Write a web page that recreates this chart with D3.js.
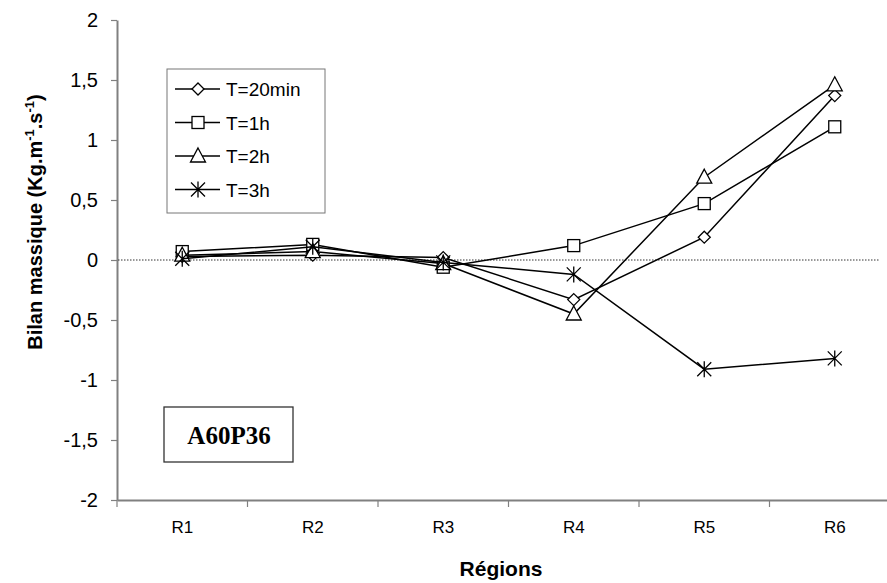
<!DOCTYPE html>
<html><head><meta charset="utf-8">
<script src="https://cdn.jsdelivr.net/npm/d3@7"></script>
<style>body{margin:0;background:#fff}svg{display:block}</style>
</head><body>
<svg id="c" width="887" height="583"></svg>
<script>
const categories = ["R1","R2","R3","R4","R5","R6"];
const seriesNames = ["T=20min","T=1h","T=2h","T=3h"];
const seriesSymbols = ["diamond","square","triangle","star"];
const t20min = [0.03, 0.04, 0.02, -0.33, 0.19, 1.37];
const t1h    = [0.07, 0.13, -0.06, 0.12, 0.47, 1.11];
const t2h    = [0.04, 0.07, -0.03, -0.45, 0.69, 1.46];
const t3h    = [0.01, 0.11, -0.02, -0.12, -0.91, -0.82];
const yTicks = [-2,-1.5,-1,-0.5,0,0.5,1,1.5,2];
const seriesValues = [t20min, t1h, t2h, t3h];

const svg = d3.select("#c");
const x = d3.scaleBand().domain(categories).range([117, 900]);
const y = d3.scaleLinear().domain([-2, 2]).range([500, 20]);
const fmt = v => String(v).replace(".", ",").replace("-", "-");
const axisCol = "#808080";
const sans = "Liberation Sans, Arial, sans-serif";

// y axis
const ya = svg.append("g").attr("transform","translate(117,0)")
  .call(d3.axisLeft(y).tickValues(yTicks).tickFormat(fmt).tickSize(6).tickSizeOuter(0));
ya.select(".domain").attr("stroke",axisCol).attr("stroke-width",2);
ya.selectAll(".tick line").attr("stroke",axisCol).attr("stroke-width",1.2);
ya.selectAll(".tick text").attr("font-family",sans)
  .attr("font-size",20).attr("fill","#000").attr("x",-19);

// x axis
const xa = svg.append("g").attr("transform","translate(0,500)")
  .call(d3.axisBottom(x).tickSize(0).tickPadding(21));
xa.select(".domain").attr("stroke",axisCol).attr("stroke-width",2);
xa.selectAll(".tick text").attr("font-family",sans)
  .attr("font-size",17).attr("fill","#000");
// band boundary ticks
const bounds = categories.map(c => x(c)).concat([x(categories[categories.length-1]) + x.bandwidth()]);
svg.append("g").selectAll("line").data(bounds).join("line")
  .attr("x1",d=>d).attr("x2",d=>d).attr("y1",500).attr("y2",507)
  .attr("stroke",axisCol).attr("stroke-width",1.2);

// zero line
svg.append("line").attr("x1",118).attr("x2",879).attr("y1",y(0)).attr("y2",y(0))
  .attr("stroke","#333").attr("stroke-width",1).attr("stroke-dasharray","1.5,1.5");

// titles
svg.append("text").attr("x",501).attr("y",576).attr("text-anchor","middle")
  .attr("font-family",sans).attr("font-weight","bold")
  .attr("font-size",21).text("Régions");
const yt = svg.append("text").attr("transform","translate(42,222) rotate(-90)")
  .attr("text-anchor","middle").attr("font-family",sans)
  .attr("font-weight","bold").attr("font-size",20);
yt.append("tspan").text("Bilan massique  (Kg.m");
yt.append("tspan").attr("font-size",13).attr("dy",-8).text("-1");
yt.append("tspan").attr("dy",8).text(".s");
yt.append("tspan").attr("font-size",13).attr("dy",-8).text("-1");
yt.append("tspan").attr("dy",8).text(")");

// marker drawer
function marker(g, type, cx, cy) {
  const st = {fill:"#fff", stroke:"#000", "stroke-width":1.3};
  let el;
  if (type === "diamond") {
    el = g.append("path").attr("d", `M${cx},${cy-6}L${cx+6},${cy}L${cx},${cy+6}L${cx-6},${cy}Z`);
  } else if (type === "square") {
    el = g.append("rect").attr("x",cx-6).attr("y",cy-6).attr("width",12).attr("height",12);
  } else if (type === "triangle") {
    el = g.append("path").attr("d", `M${cx},${cy-8}L${cx+7.5},${cy+6}L${cx-7.5},${cy+6}Z`);
  } else {
    el = g.append("path").attr("d",
      `M${cx-7},${cy-7}L${cx+7},${cy+7}M${cx+7},${cy-7}L${cx-7},${cy+7}M${cx},${cy-8}L${cx},${cy+8}`);
    st.fill = "none";
  }
  Object.entries(st).forEach(([k,v]) => el.attr(k,v));
}

const line = d3.line().x((d,i)=>x(categories[i]) + x.bandwidth()/2).y(d=>y(d));
seriesValues.forEach((vals, si) => {
  const g = svg.append("g");
  g.append("path").attr("d", line(vals)).attr("fill","none").attr("stroke","#000").attr("stroke-width",1.5);
  vals.forEach((v,i) => marker(g, seriesSymbols[si], x(categories[i]) + x.bandwidth()/2, y(v)));
});

// legend
const lg = svg.append("g");
lg.append("rect").attr("x",167).attr("y",69).attr("width",158).attr("height",144)
  .attr("fill","#fff").attr("stroke","#777").attr("stroke-width",1);
seriesNames.forEach((n,i) => {
  const ly = 89 + i*33.5;
  lg.append("line").attr("x1",175).attr("x2",220).attr("y1",ly).attr("y2",ly)
    .attr("stroke","#000").attr("stroke-width",1.5);
  marker(lg, seriesSymbols[i], 198, ly);
  lg.append("text").attr("x",226).attr("y",ly+7).attr("font-family",sans)
    .attr("font-size",19).text(n);
});

// annotation box
svg.append("rect").attr("x",164).attr("y",407).attr("width",129).attr("height",55)
  .attr("fill","#fff").attr("stroke","#333").attr("stroke-width",1.3);
svg.append("text").attr("x",229).attr("y",444).attr("text-anchor","middle")
  .attr("font-family","Liberation Serif, Times New Roman, serif").attr("font-weight","bold")
  .attr("font-size",25).text("A60P36");
</script>
</body></html>
